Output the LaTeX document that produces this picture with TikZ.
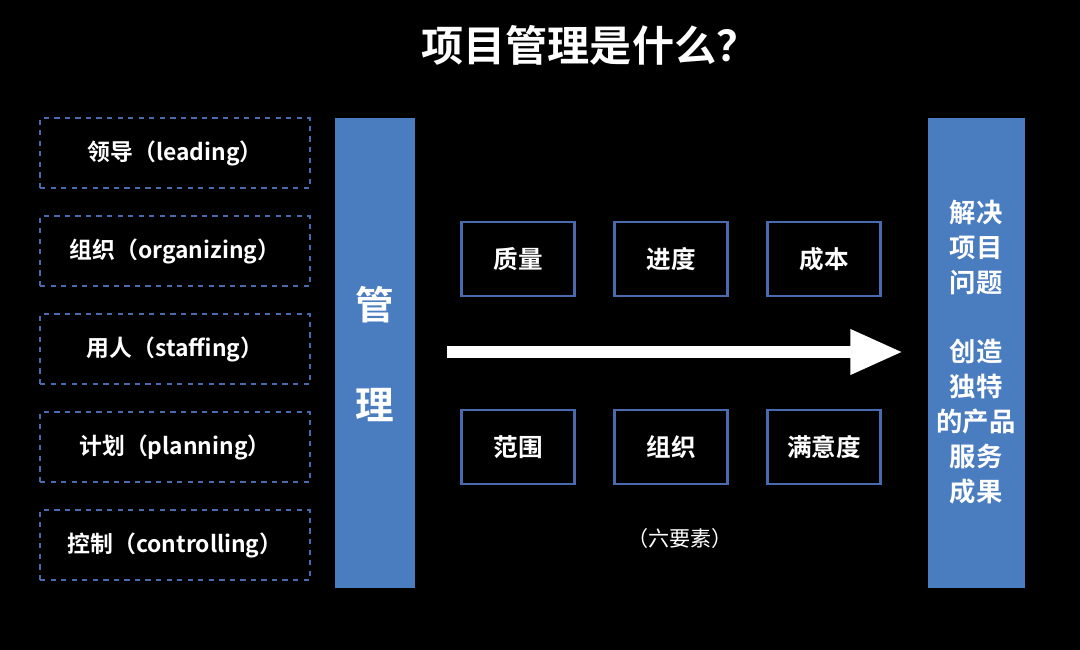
\documentclass[tikz,border=0pt]{standalone}
\usepackage{fontspec}
\setmainfont{Noto Sans CJK SC}[BoldFont={Noto Sans CJK SC Bold}]
\usetikzlibrary{arrows.meta}
\definecolor{barblue}{HTML}{4A7CC0}
\definecolor{lineblue}{HTML}{4A6AB0}
\begin{document}
\begin{tikzpicture}[x=0.02cm,y=-0.02cm]
	\tikzset{role/.style={draw=lineblue,dashed,line width=1.2pt,minimum width=5.4cm,minimum height=1.4cm,text=white,font=\bfseries\fontsize{13}{15}\selectfont},
	factor/.style={draw=lineblue,line width=1.2pt,minimum width=2.26cm,minimum height=1.48cm,text=white,font=\bfseries\fontsize{14}{16}\selectfont},
	bar/.style={fill=barblue,draw=none,anchor=north west}}
	\fill[black] (0,0) rectangle (1080,650);
	\node[text=white,font=\bfseries\fontsize{24}{28}\selectfont] (title) at (590,45) {项目管理是什么？};

	% left column
	\node[role] (lead) at (175,153) {\raisebox{-2pt}{领导（leading）}};
	\node[role] (org) at (175,251) {\raisebox{-2pt}{组织（organizing）}};
	\node[role] (staff) at (175,349) {\raisebox{-2pt}{用人（staffing）}};
	\node[role] (plan) at (175,447) {\raisebox{-2pt}{计划（planning）}};
	\node[role] (ctrl) at (175,545) {\raisebox{-2pt}{控制（controlling）}};

	\node[bar,minimum width=1.6cm,minimum height=9.4cm] (mgmt) at (335,118) {};
	\node[text=white,font=\bfseries\fontsize{22}{26}\selectfont] (guan) at (375,305) {管};
	\node[text=white,font=\bfseries\fontsize{22}{26}\selectfont] (li) at (375,405) {理};

	\node[bar,minimum width=1.94cm,minimum height=9.4cm] (goal) at (928,118) {};
	\node[text=white,align=center,font=\bfseries\fontsize{15}{19.8}\selectfont] (goaltext) at (976,352)
		{解决\\项目\\问题\\[19.8pt]创造\\独特\\的产品\\服务\\成果};

	% six factors
	\node[factor] (qual) at (518,259) {质量};
	\node[factor] (sched) at (671,259) {进度};
	\node[factor] (cost) at (824,259) {成本};
	\node[factor] (scope) at (518,447) {范围};
	\node[factor] (team) at (671,447) {组织};
	\node[factor] (satis) at (824,447) {满意度};
	\node[text=white,font=\fontsize{12}{14}\selectfont] (six) at (680,538) {（六要素）};

	\coordinate (arrS) at (447,352);
	\coordinate (arrE) at (903,352);
	\draw[white,line width=7pt,-{Triangle[length=30pt,width=24pt]}] (arrS) -- (arrE);
\end{tikzpicture}
\end{document}
